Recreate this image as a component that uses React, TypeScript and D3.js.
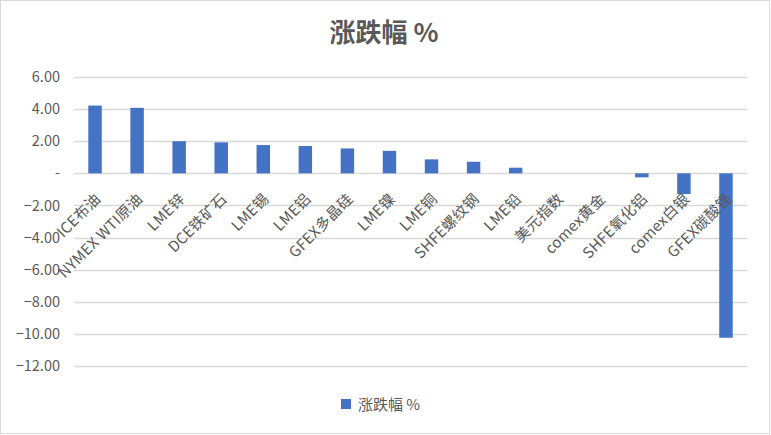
import * as d3 from "d3";

const categories = [
  "ICE布油",
  "NYMEX WTI原油",
  "LME锌",
  "DCE铁矿石",
  "LME锡",
  "LME铝",
  "GFEX多晶硅",
  "LME镍",
  "LME铜",
  "SHFE螺纹钢",
  "LME铅",
  "美元指数",
  "comex黄金",
  "SHFE氧化铝",
  "comex白银",
  "GFEX碳酸锂",
];

const changes = [4.22, 4.08, 2.0, 1.93, 1.76, 1.7, 1.55, 1.4, 0.87, 0.72, 0.35, 0, 0, -0.25, -1.29, -10.24];

const yTicks = [6, 4, 2, 0, -2, -4, -6, -8, -10, -12];

const seriesName = "涨跌幅 %";

const width = 771;
const height = 435;
const margin = { top: 77, right: 24, bottom: 69, left: 74 };
const font = "'Noto Sans CJK SC', 'Noto Sans', sans-serif";
const textColor = "#595959";
const barColor = "#4472C4";

export default function App() {
  const x = d3
    .scaleBand()
    .domain(categories)
    .range([margin.left, width - margin.right])
    .paddingInner(0.68)
    .paddingOuter(0.34);

  const y = d3
    .scaleLinear()
    .domain([-12, 6])
    .range([height - margin.bottom, margin.top]);

  const fmt = (v: number) => (v === 0 ? "-" : d3.format(".2f")(v));

  return (
    <svg
      width={width}
      height={height}
      style={{ position: "fixed", left: 0, top: 0, background: "#fff" }}
      fontFamily={font}
    >
      <rect x={0.5} y={0.5} width={width - 2} height={height - 2} fill="#fff" stroke="#d9d9d9" />

      <text
        x={384}
        y={42}
        textAnchor="middle"
        fontSize={26}
        fontWeight="bold"
        fill={textColor}
      >
        {seriesName}
      </text>

      {/* gridlines */}
      {yTicks.map((t) => (
        <line
          key={t}
          x1={margin.left}
          x2={width - margin.right}
          y1={Math.round(y(t)) + 0.5}
          y2={Math.round(y(t)) + 0.5}
          stroke="#d9d9d9"
          strokeWidth={1.3}
        />
      ))}

      {/* y tick labels */}
      {yTicks.map((t) => (
        <text
          key={t}
          x={60}
          y={y(t)}
          dy="0.35em"
          textAnchor="end"
          fontSize={14.5}
          fill={textColor}
        >
          {fmt(t)}
        </text>
      ))}

      {/* bars */}
      {categories.map((c, i) => {
        const v = changes[i];
        const y0 = y(0);
        const y1 = y(v);
        return (
          <rect
            key={c}
            x={x(c)!}
            y={Math.min(y0, y1)}
            width={x.bandwidth()}
            height={Math.abs(y1 - y0)}
            fill={barColor}
          />
        );
      })}

      {/* category labels */}
      {categories.map((c) => {
        const cx = x(c)! + x.bandwidth() / 2 + 2;
        const cy = y(0) + 22;
        return (
          <text
            key={c}
            transform={`translate(${cx},${cy}) rotate(-45)`}
            textAnchor="end"
            dominantBaseline="central"
            fontSize={15}
            letterSpacing={0.3}
            fill={textColor}
          >
            {c}
          </text>
        );
      })}

      {/* legend */}
      <rect x={341} y={399} width={10} height={10} fill={barColor} />
      <text x={358} y={410} fontSize={15} fill={textColor}>
        {seriesName}
      </text>
    </svg>
  );
}
